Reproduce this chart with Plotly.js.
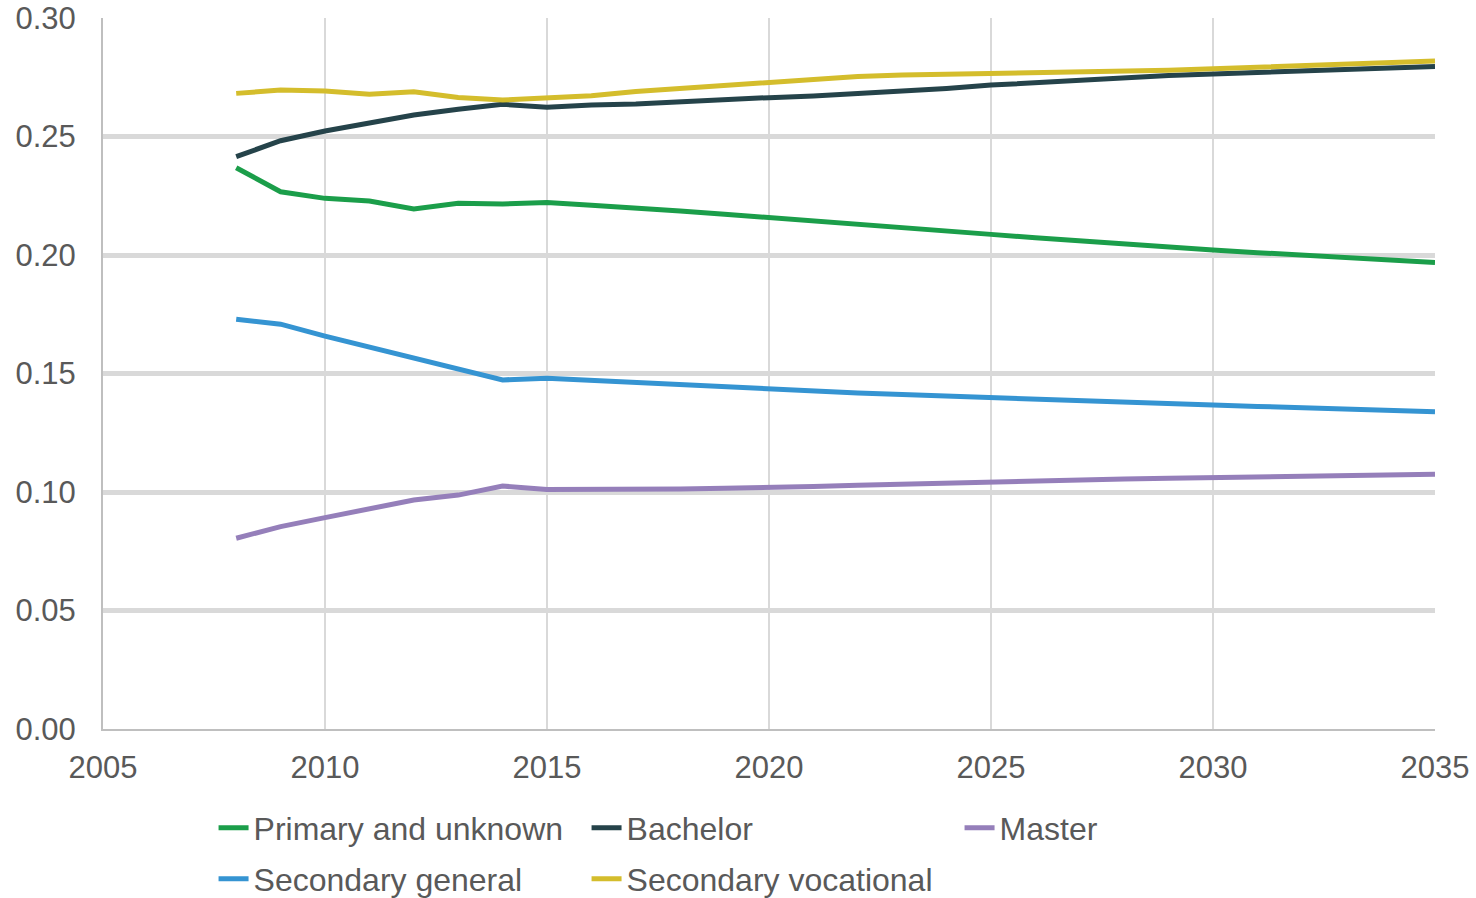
<!DOCTYPE html>
<html>
<head>
<meta charset="utf-8">
<script src="https://cdn.plot.ly/plotly-3.0.1.min.js"></script>
<style>
  html, body { margin: 0; padding: 0; background: #ffffff; }
  #chart { width: 1476px; height: 898px; }
</style>
</head>
<body>
<div id="chart"></div>
<script>
const years = [2008, 2009, 2010, 2011, 2012, 2013, 2014, 2015, 2016, 2017,
  2018, 2019, 2020, 2021, 2022, 2023, 2024, 2025, 2026, 2027,
  2028, 2029, 2030, 2031, 2032, 2033, 2034, 2035];

const primaryUnknown = [0.2368, 0.2267, 0.2239, 0.2228, 0.2194, 0.2218, 0.2215, 0.2221, 0.2210, 0.2200,
  0.2186, 0.2172, 0.2157, 0.2143, 0.2128, 0.2114, 0.2100, 0.2087, 0.2073, 0.2059,
  0.2046, 0.2033, 0.2021, 0.2010, 0.1999, 0.1989, 0.1978, 0.1968];

const bachelor = [0.2415, 0.2482, 0.2523, 0.2558, 0.2591, 0.2615, 0.2636, 0.2623, 0.2633, 0.2637,
  0.2647, 0.2656, 0.2664, 0.2671, 0.2680, 0.2690, 0.2703, 0.2717, 0.2728, 0.2738,
  0.2748, 0.2757, 0.2764, 0.2771, 0.2778, 0.2784, 0.2790, 0.2795];

const master = [0.0805, 0.0854, 0.0892, 0.0928, 0.0966, 0.0987, 0.1025, 0.1011, 0.1011, 0.1010,
  0.1013, 0.1016, 0.1018, 0.1023, 0.1028, 0.1033, 0.1039, 0.1044, 0.1048, 0.1052,
  0.1055, 0.1058, 0.1060, 0.1064, 0.1067, 0.1070, 0.1073, 0.1075];

const secondaryGeneral = [0.1729, 0.1708, 0.1658, 0.1613, 0.1568, 0.1519, 0.1473, 0.1480, 0.1471, 0.1459,
  0.1449, 0.1441, 0.1433, 0.1425, 0.1418, 0.1411, 0.1404, 0.1398, 0.1391, 0.1385,
  0.1378, 0.1372, 0.1367, 0.1361, 0.1356, 0.1350, 0.1345, 0.1339];

const secondaryVocational = [0.2682, 0.2696, 0.2692, 0.2678, 0.2689, 0.2665, 0.2654, 0.2664, 0.2672, 0.2690,
  0.2703, 0.2715, 0.2731, 0.2744, 0.2753, 0.2759, 0.2762, 0.2764, 0.2767, 0.2771,
  0.2775, 0.2780, 0.2786, 0.2793, 0.2799, 0.2806, 0.2812, 0.2819];

const seriesNames = ["Primary and unknown", "Bachelor", "Master", "Secondary general", "Secondary vocational"];
const xTickVals = [2005, 2010, 2015, 2020, 2025, 2030, 2035];
const yTickVals = [0, 0.05, 0.10, 0.15, 0.20, 0.25, 0.30];

const colors = {
  "Primary and unknown": "#1b9e4a",
  "Bachelor": "#25434a",
  "Master": "#957fba",
  "Secondary general": "#3594d2",
  "Secondary vocational": "#d4bd2c"
};

function mk(name, ys, legend) {
  return {
    type: "scatter", mode: "lines", name: name,
    x: years, y: ys, legend: legend,
    line: { color: colors[name], width: 5 },
    hoverinfo: "x+y+name"
  };
}

const data = [
  mk(seriesNames[0], primaryUnknown, "legend"),
  mk(seriesNames[1], bachelor, "legend"),
  mk(seriesNames[2], master, "legend"),
  mk(seriesNames[3], secondaryGeneral, "legend2"),
  mk(seriesNames[4], secondaryVocational, "legend2")
];

const FONT = "Liberation Sans, Arial, sans-serif";
const legendCommon = {
  orientation: "h",
  xanchor: "left",
  yanchor: "middle",
  x: 0.083,
  entrywidth: 328,
  entrywidthmode: "pixels",
  font: { family: FONT, size: 32, color: "#595959" },
  bgcolor: "rgba(0,0,0,0)",
  traceorder: "normal"
};

const layout = {
  width: 1476, height: 898,
  margin: { l: 103, r: 41, t: 18, b: 169, autoexpand: false },
  paper_bgcolor: "#ffffff",
  plot_bgcolor: "#ffffff",
  font: { family: FONT, size: 31, color: "#595959" },
  showlegend: true,
  legend: Object.assign({}, legendCommon, { y: -0.139 }),
  legend2: Object.assign({}, legendCommon, { y: -0.211 }),
  xaxis: {
    range: [2005, 2035],
    tickmode: "array", tickvals: xTickVals,
    ticktext: xTickVals.map(String),
    showgrid: true, gridcolor: "#d9d9d9", gridwidth: 2,
    showline: true, linecolor: "#bfbfbf", linewidth: 2,
    zeroline: false, ticks: "",
    tickfont: { family: FONT, size: 31, color: "#595959" },
    ticklabelstandoff: 10
  },
  yaxis: {
    range: [0, 0.30],
    tickmode: "array", tickvals: yTickVals,
    tickformat: ".2f",
    showgrid: true, gridcolor: "#d9d9d9", gridwidth: 5,
    showline: true, linecolor: "#bfbfbf", linewidth: 2,
    zeroline: false, ticks: "",
    tickfont: { family: FONT, size: 31, color: "#595959" },
    ticklabelstandoff: 19
  }
};

Plotly.newPlot("chart", data, layout, { displayModeBar: false, staticPlot: true });
</script>
</body>
</html>
